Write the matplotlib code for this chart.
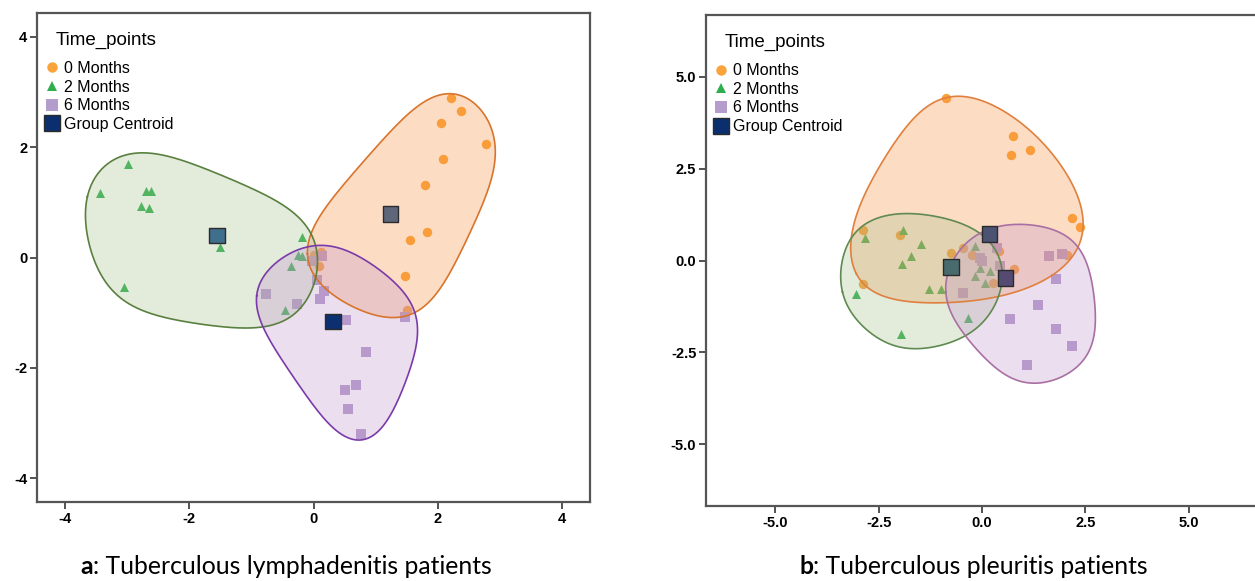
import numpy as np
import matplotlib
matplotlib.use("Agg")
import matplotlib.pyplot as plt
from matplotlib.lines import Line2D

plt.rcParams["axes.unicode_minus"] = False
plt.rcParams["font.family"] = ["Liberation Sans", "DejaVu Sans"]

# ---------------- data ----------------
# panel a: tuberculous lymphadenitis
lymph_0m_x = [2.21, 2.38, 2.06, 2.77, 2.09, 1.80, 1.82, 1.55, 1.47, 1.51, 0.00, 0.12, 0.09]
lymph_0m_y = [2.89, 2.66, 2.44, 2.06, 1.78, 1.32, 0.46, 0.32, -0.34, -0.95, 0.05, 0.10, -0.16]
lymph_2m_x = [-2.98, -3.44, -2.69, -2.61, -2.78, -2.65, -1.51, -3.05, -0.18, -0.25, -0.18, -0.37, -0.46]
lymph_2m_y = [1.69, 1.17, 1.20, 1.20, 0.94, 0.90, 0.19, -0.54, 0.37, 0.05, 0.02, -0.16, -0.96]
lymph_6m_x = [-0.77, -0.26, 0.52, 1.48, 0.84, 0.69, 0.50, 0.55, 0.76, -0.02, 0.14, 0.06, 0.17, 0.11]
lymph_6m_y = [-0.66, -0.85, -1.13, -1.07, -1.72, -2.31, -2.40, -2.74, -3.19, -0.07, 0.02, -0.40, -0.61, -0.76]
lymph_centroid_x = [1.24, -1.55, 0.31]
lymph_centroid_y = [0.79, 0.40, -1.16]

# panel b: tuberculous pleuritis
pleur_0m_x = [-0.88, 0.76, 1.16, 0.69, 2.17, 2.36, -2.87, -1.99, -0.76, -0.45, 0.40, 0.77, -2.89, 0.27, 2.05, -0.25]
pleur_0m_y = [4.42, 3.40, 3.01, 2.88, 1.16, 0.92, 0.82, 0.70, 0.21, 0.33, 0.25, -0.22, -0.63, -0.61, 0.16, 0.16]
pleur_2m_x = [-1.90, -2.83, -1.48, -1.72, -1.94, -1.28, -1.00, -3.05, -0.33, -1.96, -0.17, -0.05, 0.19, 0.07, -0.17]
pleur_2m_y = [0.82, 0.60, 0.46, 0.12, -0.09, -0.77, -0.77, -0.92, -1.56, -2.01, 0.39, -0.20, -0.29, -0.61, -0.43]
pleur_6m_x = [1.61, 1.93, 1.79, 1.35, 0.68, 1.78, 2.19, 1.08, -0.45, 0.44, -0.05, 0.36, -0.01]
pleur_6m_y = [0.12, 0.18, -0.49, -1.22, -1.58, -1.86, -2.33, -2.85, -0.88, -0.15, 0.07, 0.35, -0.02]
pleur_centroid_x = [0.18, -0.76, 0.57]
pleur_centroid_y = [0.71, -0.17, -0.47]

group_labels = ["0 Months", "2 Months", "6 Months"]
lymph_ticks = [-4, -2, 0, 2, 4]
pleur_ticks = [-5.0, -2.5, 0.0, 2.5, 5.0]

# styles
pt_colors = ["#f9a33a", "#2fae4e", "#b49ccc"]
pt_markers = ["o", "^", "s"]
pt_sizes = [46, 42, 52]
fill_colors = ["#fb8c3c", "#a5c08a", "#c094cd"]
edge_a = ["#d8742c", "#5a8040", "#7a3aa8"]
edge_b = ["#e0803e", "#5f8a50", "#aa6fa2"]
cent_a = ["#60667a", "#3f6f8c", "#0b2f70"]
cent_b = ["#4c5272", "#4a6b6e", "#544a72"]


def convex_hull(p):
    p = sorted(set(map(tuple, p)))

    def cross(o, a, b):
        return (a[0] - o[0]) * (b[1] - o[1]) - (a[1] - o[1]) * (b[0] - o[0])

    lower, upper = [], []
    for q in p:
        while len(lower) >= 2 and cross(lower[-2], lower[-1], q) <= 0:
            lower.pop()
        lower.append(q)
    for q in reversed(p):
        while len(upper) >= 2 and cross(upper[-2], upper[-1], q) <= 0:
            upper.pop()
        upper.append(q)
    return np.array(lower[:-1] + upper[:-1])


def blob(ax, x, y, pad=18, smooth=24, n=400):
    # rounded hull around the points (in pixels), then smoothed
    pts = ax.transData.transform(np.column_stack([x, y]))
    ang = np.linspace(0, 2 * np.pi, 48, endpoint=False)
    circ = np.column_stack([np.cos(ang), np.sin(ang)]) * pad
    h = convex_hull((pts[:, None, :] + circ[None, :, :]).reshape(-1, 2))
    closed = np.vstack([h, h[:1]])
    s = np.concatenate([[0], np.cumsum(np.hypot(*np.diff(closed, axis=0).T))])
    t = np.linspace(0, s[-1], n, endpoint=False)
    rx = np.interp(t, s, closed[:, 0])
    ry = np.interp(t, s, closed[:, 1])
    k = np.exp(-0.5 * (np.arange(-n // 2, n // 2) / smooth) ** 2)
    k = np.fft.fft(np.fft.ifftshift(k / k.sum()))
    sx = np.real(np.fft.ifft(np.fft.fft(rx) * k))
    sy = np.real(np.fft.ifft(np.fft.fft(ry) * k))
    out = ax.transData.inverted().transform(np.column_stack([sx, sy]))
    return np.vstack([out, out[:1]])


def panel(ax, groups, cents, ticks, fmt, lim, edges, cent_cols, pads):
    ax.set_xlim(-lim[0], lim[0])
    ax.set_ylim(-lim[1], lim[1])
    for i, (gx, gy) in enumerate(groups):
        ax.scatter(gx, gy, s=pt_sizes[i], c=pt_colors[i], marker=pt_markers[i],
                   linewidths=0, zorder=2)
    for i, (gx, gy) in enumerate(groups):
        b = blob(ax, gx, gy, pad=pads[i])
        ax.fill(b[:, 0], b[:, 1], color=fill_colors[i], alpha=0.3, lw=0, zorder=3)
        ax.plot(b[:, 0], b[:, 1], color=edges[i], lw=1.2, zorder=4)
    ax.scatter(cents[0], cents[1], s=130, marker="s", c=cent_cols,
               edgecolors="#2b2b2b", linewidths=1.0, zorder=5)
    ax.set_xticks(ticks)
    ax.set_yticks(ticks)
    ax.set_xticklabels([fmt % v for v in ticks])
    ax.set_yticklabels([fmt % v for v in ticks])
    ax.tick_params(direction="out", length=5, width=1.3, color="#444444",
                   labelsize=10.5, pad=2)
    for lab in ax.get_xticklabels() + ax.get_yticklabels():
        lab.set_fontweight("bold")
    for sp in ax.spines.values():
        sp.set_color("#555555")
        sp.set_linewidth(1.6)

    handles = [Line2D([], [], ls="none", marker=pt_markers[i], color=pt_colors[i],
                      markersize=[7.5, 6.5, 8][i], markeredgewidth=0) for i in range(3)]
    handles.append(Line2D([], [], ls="none", marker="s", markersize=12,
                          markerfacecolor="#0b2f6e", markeredgecolor="#2b2b2b",
                          markeredgewidth=1.0))
    ax.legend(handles, group_labels + ["Group Centroid"], loc="upper left",
              bbox_to_anchor=(0.0135, 0.902), frameon=False, fontsize=11.5,
              handlelength=1.0, handletextpad=0.25, labelspacing=0.23,
              borderpad=0, borderaxespad=0)
    ax.text(0.034, 0.962, "Time_points", transform=ax.transAxes, fontsize=13.5,
            va="top", ha="left")


fig = plt.figure(figsize=(12.55, 5.81), dpi=100)
ax1 = fig.add_axes([37 / 1255, 79 / 581, 553 / 1255, 489 / 581])
ax2 = fig.add_axes([706 / 1255, 75 / 581, 552 / 1255, 491 / 581])

panel(ax1, [(lymph_0m_x, lymph_0m_y), (lymph_2m_x, lymph_2m_y), (lymph_6m_x, lymph_6m_y)],
      (lymph_centroid_x, lymph_centroid_y), lymph_ticks, "%d", (4.45, 4.43),
      edge_a, cent_a, [24, 26, 24])
panel(ax2, [(pleur_0m_x, pleur_0m_y), (pleur_2m_x, pleur_2m_y), (pleur_6m_x, pleur_6m_y)],
      (pleur_centroid_x, pleur_centroid_y), pleur_ticks, "%.1f", (6.68, 6.68),
      edge_b, cent_b, [21, 22, 28])

# captions
cap = dict(fontsize=17.8, family=["Lato", "DejaVu Sans"], va="baseline")
fig.text(93 / 1255, 7 / 581, "a", ha="right", fontweight="bold", **cap)
fig.text(93 / 1255, 7 / 581, ": Tuberculous lymphadenitis patients", ha="left", **cap)
fig.text(813 / 1255, 7 / 581, "b", ha="right", fontweight="bold", **cap)
fig.text(813 / 1255, 7 / 581, ": Tuberculous pleuritis patients", ha="left", **cap)

fig.savefig("out.png", dpi=100)
